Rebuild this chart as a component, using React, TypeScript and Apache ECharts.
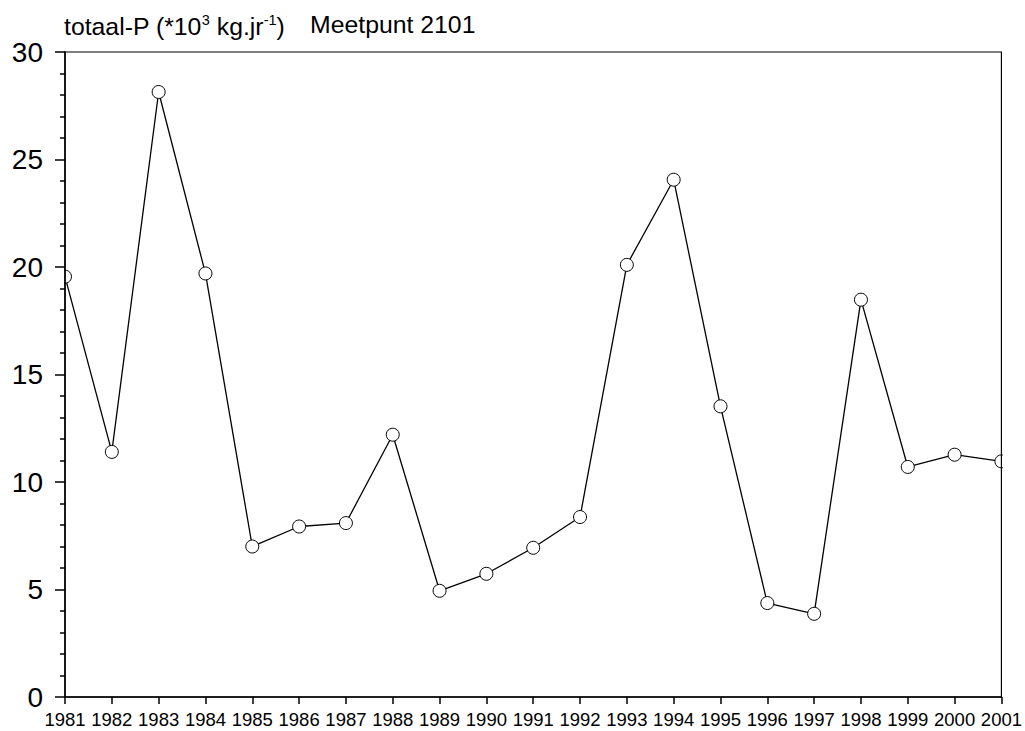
import React, { useEffect, useRef } from "react";
import * as echarts from "echarts";

const years = [
  "1981", "1982", "1983", "1984", "1985", "1986", "1987", "1988", "1989", "1990",
  "1991", "1992", "1993", "1994", "1995", "1996", "1997", "1998", "1999", "2000", "2001",
];
const totaalP = [
  19.55, 11.4, 28.14, 19.7, 7.0, 7.93, 8.09, 12.2, 4.94, 5.73,
  6.94, 8.37, 20.1, 24.06, 13.52, 4.37, 3.87, 18.48, 10.7, 11.27, 10.96,
];
const yMin = 0;
const yMax = 30;
const yStep = 5;

const FONT = "'Liberation Sans', Arial, Helvetica, sans-serif";

export default function App() {
  const ref = useRef<HTMLDivElement>(null);
  useEffect(() => {
    if (!ref.current) return;
    const chart = echarts.init(ref.current, undefined, { renderer: "svg" });
    chart.setOption({
      animation: false,
      backgroundColor: "#fff",
      textStyle: { fontFamily: FONT },
      grid: {
        left: 65,
        right: 23,
        top: 52,
        bottom: 34,
        show: true,
        borderColor: "#000",
        borderWidth: 1.2,
        backgroundColor: "transparent",
        z: 3,
      },
      graphic: [
        {
          type: "rect",
          z: 2,
          shape: { x: 40, y: 40, width: 24.2, height: 660 },
          style: { fill: "#fff" },
          silent: true,
        },
        {
          type: "rect",
          z: 2,
          shape: { x: 1002.8, y: 40, width: 22, height: 660 },
          style: { fill: "#fff" },
          silent: true,
        },
        {
          type: "text",
          left: 64,
          top: 12,
          z: 5,
          style: {
            text: "{n|totaal-P (*10}{s|3}{n| kg.jr}{s|-1}{n|)}",
            fontFamily: FONT,
            fill: "#000",
            rich: {
              n: { fontSize: 24.8, lineHeight: 28, fontFamily: FONT, fill: "#000" },
              s: { fontSize: 14.5, lineHeight: 24, verticalAlign: "top", fontFamily: FONT, fill: "#000" },
            },
          },
        },
        {
          type: "text",
          left: 310,
          top: 12,
          z: 5,
          style: {
            text: "{n|Meetpunt 2101}",
            fontFamily: FONT,
            fill: "#000",
            rich: {
              n: { fontSize: 24.8, lineHeight: 28, fontFamily: FONT, fill: "#000" },
            },
          },
        },
      ],
      xAxis: {
        type: "category",
        data: years,
        boundaryGap: false,
        z: 3,
        axisLine: { lineStyle: { color: "#000", width: 1.5 } },
        axisTick: { show: true, length: 7, interval: 0, lineStyle: { color: "#000", width: 1.5 } },
        axisLabel: { interval: 0, fontSize: 18.5, color: "#000", margin: 13, fontFamily: FONT },
        splitLine: { show: false },
      },
      yAxis: {
        type: "value",
        min: yMin,
        max: yMax,
        interval: yStep,
        z: 3,
        axisLine: { show: true, lineStyle: { color: "#000", width: 1.5 } },
        axisTick: { show: true, length: 10, lineStyle: { color: "#000", width: 1.5 } },
        minorTick: { show: true, splitNumber: 5, length: 5, lineStyle: { color: "#000", width: 1.5 } },
        axisLabel: { fontSize: 28, color: "#000", margin: 22, fontFamily: FONT },
        splitLine: { show: false },
        minorSplitLine: { show: false },
      },
      series: [
        {
          type: "line",
          data: totaalP,
          symbol: "circle",
          symbolSize: 13,
          clip: false,
          lineStyle: { color: "#000", width: 1.3 },
          itemStyle: { color: "#fff", borderColor: "#000", borderWidth: 1 },
          z: 1,
        },
      ],
    });
    return () => chart.dispose();
  }, []);
  return (
    <div
      ref={ref}
      style={{ position: "fixed", left: 0, top: 0, width: 1025, height: 731, background: "#fff" }}
    />
  );
}
